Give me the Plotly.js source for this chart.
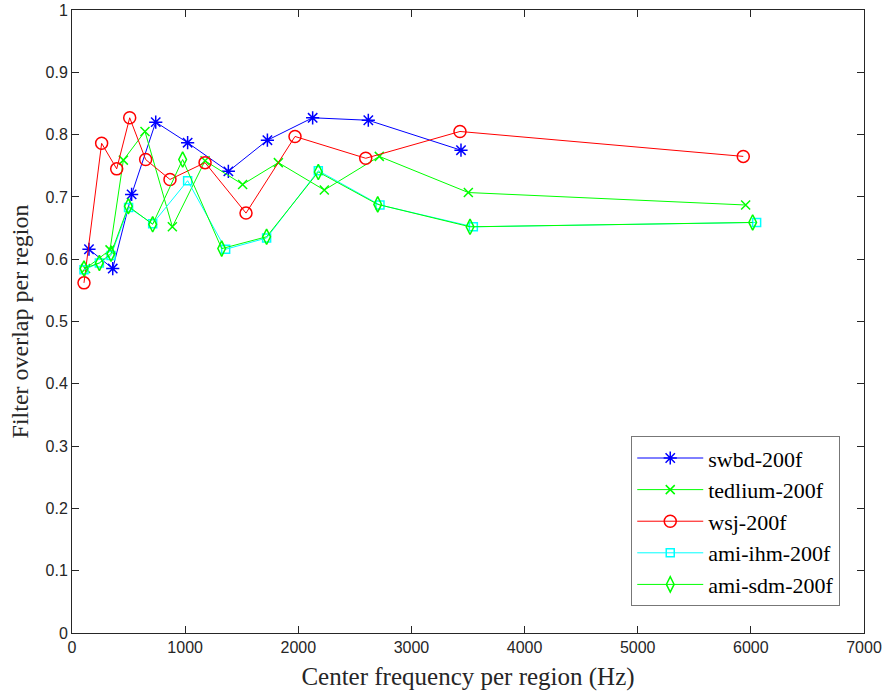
<!DOCTYPE html>
<html><head><meta charset="utf-8">
<script src="https://cdn.plot.ly/plotly-3.0.1.min.js"></script>
<style>body{margin:0;padding:0;background:#fff}#chart{width:885px;height:698px}</style>
</head><body><div id="chart"></div>
<script>
const swbdX = [150, 360, 527, 740, 1022, 1382, 1727, 2127, 2619, 3438];
const swbdY = [0.616, 0.585, 0.704, 0.820, 0.787, 0.741, 0.791, 0.827, 0.823, 0.775];
const tedX = [120, 336, 454, 645, 887, 1176, 1508, 1824, 2230, 2716, 3503, 5954];
const tedY = [0.585, 0.615, 0.759, 0.805, 0.652, 0.758, 0.720, 0.755, 0.711, 0.765, 0.707, 0.687];
const wsjX = [106, 262, 395, 510, 651, 866, 1176, 1538, 1971, 2596, 3429, 5933];
const wsjY = [0.562, 0.786, 0.745, 0.827, 0.760, 0.728, 0.755, 0.674, 0.797, 0.762, 0.805, 0.765];
const ihmX = [106, 242, 345, 500, 713, 1022, 1358, 1720, 2177, 2722, 3547, 6051];
const ihmY = [0.583, 0.594, 0.606, 0.683, 0.657, 0.726, 0.616, 0.634, 0.742, 0.687, 0.652, 0.659];
const sdmX = [106, 242, 345, 498, 713, 978, 1323, 1720, 2177, 2702, 3518, 6016];
const sdmY = [0.585, 0.594, 0.609, 0.685, 0.656, 0.760, 0.617, 0.636, 0.740, 0.688, 0.652, 0.659];
const names = ['swbd-200f', 'tedlium-200f', 'wsj-200f', 'ami-ihm-200f', 'ami-sdm-200f'];
const xTicks = [0, 1000, 2000, 3000, 4000, 5000, 6000, 7000];
const yTicks = [0, 0.1, 0.2, 0.3, 0.4, 0.5, 0.6, 0.7, 0.8, 0.9, 1];

function tr(x, y, name, color, symbol, size) {
  return {x: x, y: y, name: name, type: 'scatter', mode: 'lines+markers',
    line: {color: color, width: 1},
    marker: {symbol: symbol, size: size, color: color, line: {color: color, width: 1.5}}};
}
const data = [
  tr(swbdX, swbdY, names[0], '#0000ff', 'asterisk-open', 11),
  tr(tedX, tedY, names[1], '#00ff00', 'x-thin-open', 9),
  tr(wsjX, wsjY, names[2], '#ff0000', 'circle-open', 12),
  tr(ihmX, ihmY, names[3], '#00ffff', 'square-open', 8),
  tr(sdmX, sdmY, names[4], '#00ff00', 'diamond-tall-open', 11)
];
const axisCommon = {
  showline: true, linecolor: '#262626', linewidth: 1, mirror: 'ticks',
  ticks: 'inside', ticklen: 7, tickcolor: '#262626', showgrid: false, zeroline: false,
  tickfont: {family: 'Liberation Sans, Arial, sans-serif', size: 16, color: '#262626'}
};
const layout = {
  width: 885, height: 698,
  margin: {l: 72, r: 21, t: 10, b: 65},
  paper_bgcolor: '#fff', plot_bgcolor: '#fff',
  showlegend: true,
  xaxis: Object.assign({}, axisCommon, {range: [0, 7000], tickvals: xTicks, ticktext: xTicks.map(String),
    title: {text: 'Center frequency per region (Hz)', standoff: 12,
      font: {family: 'Liberation Serif, Times New Roman, serif', size: 25, color: '#262626'}}}),
  yaxis: Object.assign({}, axisCommon, {range: [0, 1], tickvals: yTicks, ticktext: yTicks.map(String),
    title: {text: 'Filter overlap per region', standoff: 10,
      font: {family: 'Liberation Serif, Times New Roman, serif', size: 24, color: '#262626'}}}),
  legend: {x: 0.970, y: 0.043, xanchor: 'right', yanchor: 'bottom',
    bgcolor: '#fff', bordercolor: '#777', borderwidth: 1,
    font: {family: 'Liberation Serif, Times New Roman, serif', size: 22, color: '#000'},
    itemwidth: 66, tracegroupgap: 0}
};
Plotly.newPlot('chart', data, layout, {displayModeBar: false, staticPlot: true});
</script></body></html>
